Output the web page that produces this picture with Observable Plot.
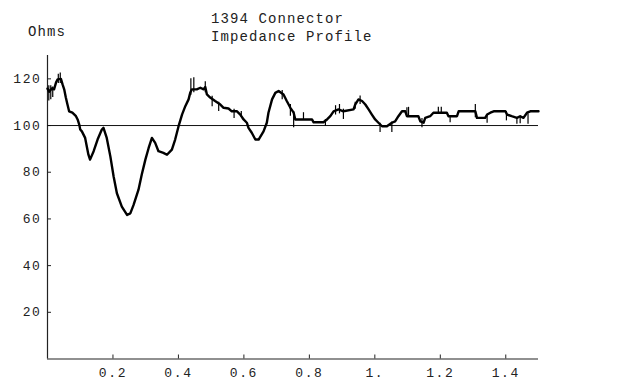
<!DOCTYPE html>
<html>
<head>
<meta charset="utf-8">
<script src="https://cdn.jsdelivr.net/npm/d3@7"></script>
<script src="https://cdn.jsdelivr.net/npm/@observablehq/plot@0.6"></script>
<style>
  html, body { margin: 0; padding: 0; background: #fff; }
  #wrap { position: relative; width: 639px; height: 381px; font-family: "Liberation Mono", "Courier New", monospace; color: #222; }
  .lbl { position: absolute; font-size: 14px; letter-spacing: 1.1px; line-height: 1; white-space: nowrap; }
  #chart { position: absolute; left: 0; top: 50px; }
</style>
</head>
<body>
<div id="wrap">
  <div class="lbl" id="t1" style="left:211px; top:12px;"></div>
  <div class="lbl" id="t2" style="left:211px; top:30px;"></div>
  <div class="lbl" id="yl" style="left:28px; top:25px;"></div>
  <div class="lbl" id="xl" style="left:554px; top:349px;"></div>
  <div id="chart"></div>
</div>
<script>
const titleLines = ["1394 Connector", "Impedance Profile"];
const yLabel = "Ohms";
const xLabel = "time(ns)";

const xTicks = [0.2, 0.4, 0.6, 0.8, 1.0, 1.2, 1.4];
const xTickLabels = ["0.2", "0.4", "0.6", "0.8", "1.", "1.2", "1.4"];
const yTicks = [20, 40, 60, 80, 100, 120];
const reference = 100;

// impedance trace: time (ns) and ohms
const time = [0.000,0.005,0.014,0.020,0.026,0.031,0.041,0.046,0.051,0.056,0.061,0.066,0.076,0.087,0.092,0.097,0.100,0.105,0.115,0.125,0.130,0.141,0.153,0.166,0.171,0.181,0.192,0.202,0.212,0.227,0.243,0.253,0.263,0.278,0.288,0.299,0.309,0.319,0.329,0.339,0.354,0.365,0.380,0.390,0.400,0.411,0.421,0.431,0.436,0.441,0.456,0.467,0.477,0.482,0.487,0.497,0.512,0.528,0.538,0.553,0.563,0.579,0.589,0.599,0.609,0.614,0.624,0.635,0.645,0.660,0.670,0.675,0.686,0.696,0.706,0.721,0.731,0.742,0.752,0.757,0.808,0.813,0.843,0.854,0.864,0.874,0.889,0.904,0.935,0.940,0.950,0.961,0.971,0.981,0.991,1.001,1.011,1.022,1.037,1.052,1.062,1.072,1.083,1.093,1.098,1.133,1.139,1.149,1.154,1.169,1.179,1.220,1.225,1.251,1.256,1.292,1.307,1.312,1.337,1.343,1.353,1.363,1.399,1.404,1.418,1.434,1.444,1.454,1.465,1.475,1.500];
const ohms = [115.8,114.5,116.0,115.5,118.4,119.8,120.0,117.6,115.5,112.0,109.0,106.1,105.5,104.0,102.6,100.4,98.3,97.5,94.7,87.5,85.4,89.0,94.0,98.3,99.0,94.7,86.8,78.2,71.0,65.3,61.7,62.4,66.0,72.5,79.0,85.4,90.4,94.7,92.6,89.0,88.3,87.5,89.7,94.0,99.5,104.7,108.3,111.2,114.0,115.5,115.5,116.2,115.5,116.5,113.3,112.0,110.5,109.0,107.6,107.3,106.1,106.1,104.7,102.6,101.2,99.0,96.9,94.0,94.0,97.5,101.2,105.5,111.2,114.0,114.8,113.3,110.5,107.6,105.5,102.6,102.6,101.4,101.4,102.6,104.0,106.1,106.9,106.1,106.9,109.0,111.2,110.5,109.0,106.9,104.7,102.6,101.2,99.7,99.7,101.2,101.8,104.0,106.1,106.1,104.0,104.0,101.8,101.2,103.3,104.0,105.5,105.5,104.0,104.0,106.1,106.1,106.1,103.3,103.3,104.7,105.5,106.1,106.1,104.7,104.0,103.3,104.0,103.3,105.5,106.1,106.1];

// short noise glitches on the trace: time, low, high
const spikeTime = [0.004,0.010,0.016,0.033,0.039,0.438,0.447,0.482,0.503,0.523,0.570,0.592,0.717,0.742,0.752,0.782,0.849,0.880,0.892,0.904,0.940,0.955,1.016,1.052,1.098,1.103,1.144,1.194,1.203,1.230,1.307,1.343,1.402,1.434,1.444,1.468];
const spikeLow  = [110.5,111.0,112.0,118.0,118.0,113.0,114.0,114.0,108.0,106.0,103.0,103.5,111.0,104.0,99.0,102.6,99.7,104.5,105.0,102.6,107.0,109.0,97.0,97.0,104.0,103.5,99.0,105.0,105.0,101.2,103.3,101.0,102.0,100.5,100.8,100.5];
const spikeHigh = [117.0,117.0,116.5,122.0,122.5,120.0,120.5,118.8,112.5,110.0,107.0,106.0,115.0,109.0,106.0,105.5,102.6,108.5,109.0,107.0,110.0,112.6,101.0,101.5,107.6,107.8,103.0,107.8,107.8,104.0,109.0,104.7,106.0,103.3,104.0,105.0];

const trace = time.map((t, i) => ({t, v: ohms[i]}));
const spikes = spikeTime.map((t, i) => ({t, lo: spikeLow[i], hi: spikeHigh[i]}));

document.getElementById("t1").textContent = titleLines[0];
document.getElementById("t2").textContent = titleLines[1];
document.getElementById("yl").textContent = yLabel;
document.getElementById("xl").textContent = xLabel;

const chart = Plot.plot({
  width: 639,
  height: 331,
  marginLeft: 47,
  marginRight: 101,
  marginTop: 5,
  marginBottom: 22.5,
  style: {fontFamily: "'Liberation Mono', 'Courier New', monospace", fontSize: "13px", color: "#222", background: "white", letterSpacing: "1.6px", overflow: "visible"},
  x: {domain: [0, 1.5]},
  y: {domain: [0, 130]},
  marks: [
    Plot.axisX({ticks: xTicks, tickFormat: d => xTickLabels[xTicks.indexOf(d)], tickSize: -4, tickPadding: 13, label: null, stroke: "#222"}),
    Plot.axisY({ticks: yTicks, tickSize: -4, tickPadding: 10, label: null, stroke: "#222"}),
    Plot.ruleY([0], {stroke: "#222", strokeWidth: 1.2}),
    Plot.ruleX([0], {stroke: "#222", strokeWidth: 1.2}),
    Plot.ruleY([reference], {stroke: "#111", strokeWidth: 1}),
    Plot.ruleX(spikes, {x: "t", y1: "lo", y2: "hi", stroke: "#000", strokeWidth: 1.2}),
    Plot.line(trace, {x: "t", y: "v", stroke: "#000", strokeWidth: 2.4, strokeLinejoin: "round"})
  ]
});
document.getElementById("chart").appendChild(chart);
</script>
</body>
</html>
